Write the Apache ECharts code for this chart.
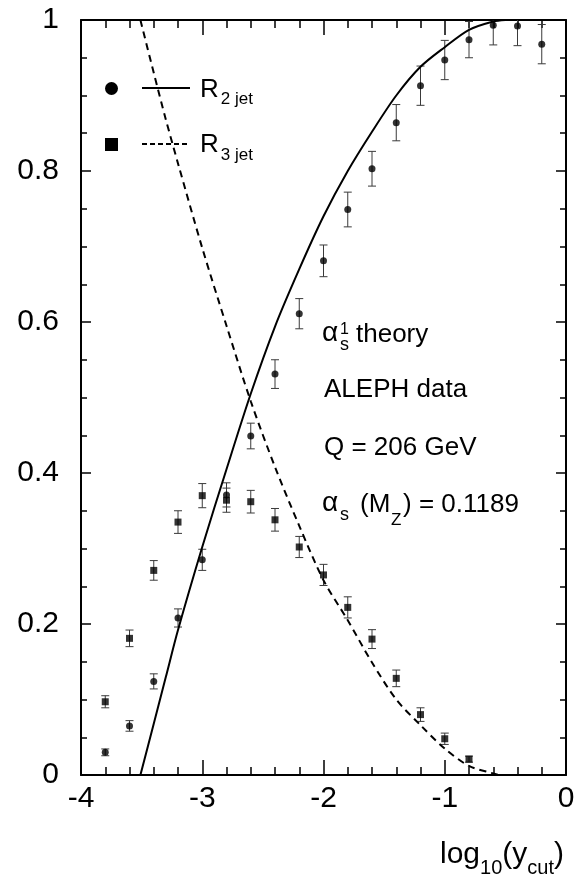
<!DOCTYPE html>
<html>
<head>
<meta charset="utf-8">
<script src="https://cdn.jsdelivr.net/npm/echarts@6/dist/echarts.min.js"></script>
<style>
  html, body { margin: 0; padding: 0; background: #fff; }
  #wrap { position: relative; width: 574px; height: 877px; }
  #main { width: 574px; height: 877px; }
  #overlay { position: absolute; left: 0; top: 0; width: 574px; height: 877px; pointer-events: none;
    font-family: 'Liberation Sans', Arial, sans-serif; color: #000; }
  #overlay div { position: absolute; white-space: nowrap; }
  .sub { position: relative; }
</style>
</head>
<body>
<div id="wrap">
  <div id="main"></div>
  <div id="overlay"></div>
</div>
<script>
// measured points (log10 ycut)
const logYcut = [-3.8, -3.6, -3.4, -3.2, -3.0, -2.8, -2.6, -2.4, -2.2, -2.0, -1.8, -1.6, -1.4, -1.2, -1.0, -0.8, -0.6, -0.4, -0.2];
const r2Data = [0.030, 0.065, 0.124, 0.208, 0.285, 0.371, 0.449, 0.531, 0.611, 0.681, 0.749, 0.803, 0.864, 0.913, 0.947, 0.974, 0.993, 0.992, 0.968];
const r2Err = [0.0045, 0.007, 0.010, 0.012, 0.014, 0.016, 0.017, 0.019, 0.020, 0.021, 0.023, 0.023, 0.024, 0.026, 0.026, 0.024, 0.026, 0.026, 0.026];
const r3Data = [0.097, 0.181, 0.271, 0.335, 0.370, 0.364, 0.362, 0.338, 0.302, 0.265, 0.222, 0.180, 0.128, 0.080, 0.048, 0.021];
const r3Err = [0.008, 0.011, 0.013, 0.015, 0.016, 0.016, 0.015, 0.015, 0.014, 0.014, 0.014, 0.0125, 0.011, 0.009, 0.0075, 0.004];

// alpha_s^1 theory curves
const r2TheoryX = [-3.51, -3.4, -3.3, -3.2, -3.0, -2.8, -2.6, -2.4, -2.2, -2.0, -1.8, -1.6, -1.4, -1.2, -1.0, -0.8, -0.6, -0.5];
const r2TheoryY = [0, 0.068, 0.13, 0.192, 0.302, 0.405, 0.505, 0.594, 0.670, 0.740, 0.800, 0.852, 0.900, 0.938, 0.964, 0.987, 0.998, 1.0];
const r3TheoryX = [-3.51, -3.4, -3.3, -3.2, -3.0, -2.8, -2.6, -2.4, -2.2, -2.0, -1.8, -1.6, -1.4, -1.2, -1.0, -0.8, -0.6, -0.55];
const r3TheoryY = [1.0, 0.93, 0.868, 0.81, 0.698, 0.595, 0.495, 0.408, 0.33, 0.258, 0.205, 0.149, 0.10, 0.066, 0.035, 0.012, 0.002, 0.0];

const FONT = 'Liberation Sans, Arial, sans-serif';

function pairs(xs, ys) {
  return ys.map((y, i) => [xs[i], y]);
}
function errRows(xs, ys, es) {
  return ys.map((y, i) => [xs[i], y - es[i], y + es[i]]);
}

function renderErrorBar(params, api) {
  const x = api.value(0);
  const lo = api.coord([x, api.value(1)]);
  const hi = api.coord([x, api.value(2)]);
  const w = 4;
  const style = { stroke: '#3a3a3a', lineWidth: 1 };
  return {
    type: 'group',
    children: [
      { type: 'line', shape: { x1: hi[0], y1: hi[1], x2: lo[0], y2: lo[1] }, style: style },
      { type: 'line', shape: { x1: hi[0] - w, y1: hi[1], x2: hi[0] + w, y2: hi[1] }, style: style },
      { type: 'line', shape: { x1: lo[0] - w, y1: lo[1], x2: lo[0] + w, y2: lo[1] }, style: style }
    ]
  };
}

function xAxisCfg(pos, showLabel) {
  return {
    type: 'value', min: -4, max: 0, interval: 1, position: pos,
    axisLine: { show: true, onZero: false, lineStyle: { color: '#000', width: 2 } },
    axisTick: { show: true, inside: true, length: 15, lineStyle: { color: '#000', width: 1.5 } },
    minorTick: { show: true, splitNumber: 5, length: 8, lineStyle: { color: '#000', width: 1.5 } },
    axisLabel: { show: showLabel, fontSize: 30, fontFamily: FONT, color: '#000', margin: 9 },
    splitLine: { show: false }
  };
}
function yAxisCfg(pos, showLabel) {
  return {
    type: 'value', min: 0, max: 1, interval: 0.2, position: pos,
    axisLine: { show: true, onZero: false, lineStyle: { color: '#000', width: 2 } },
    axisTick: { show: true, inside: true, length: 10, lineStyle: { color: '#000', width: 1.5 } },
    minorTick: { show: true, splitNumber: 4, length: 6, lineStyle: { color: '#000', width: 1.5 } },
    axisLabel: { show: showLabel, fontSize: 30, fontFamily: FONT, color: '#000', margin: 22 },
    splitLine: { show: false }
  };
}

const myChart = echarts.init(document.getElementById('main'));

const option = {
  animation: false,
  grid: { left: 81, right: 8, top: 20, bottom: 102, outerBoundsMode: 'none' },
  xAxis: [xAxisCfg('bottom', true), xAxisCfg('top', false)],
  yAxis: [yAxisCfg('left', true), yAxisCfg('right', false)],
  series: [
    { type: 'line', data: pairs(r3TheoryX, r3TheoryY), showSymbol: false, symbol: 'none', smooth: 0.3,
      lineStyle: { color: '#000', width: 2, type: [7, 5] } },
    { type: 'line', data: pairs(r2TheoryX, r2TheoryY), showSymbol: false, symbol: 'none', smooth: 0.3,
      lineStyle: { color: '#000', width: 2 } },
    { type: 'custom', data: errRows(logYcut, r2Data, r2Err), renderItem: renderErrorBar, clip: true, encode: { x: 0, y: [1, 2] } },
    { type: 'custom', data: errRows(logYcut, r3Data, r3Err), renderItem: renderErrorBar, clip: true, encode: { x: 0, y: [1, 2] } },
    { type: 'scatter', data: pairs(logYcut, r2Data), symbol: 'circle', symbolSize: 7, itemStyle: { color: '#000' } },
    { type: 'scatter', data: pairs(logYcut, r3Data), symbol: 'rect', symbolSize: 7, itemStyle: { color: '#000' } }
  ]
};
myChart.setOption(option);
// the axis ticks only show up after a forced redraw
myChart.getZr().storage.getDisplayList(true);
myChart.getZr().refreshImmediately();

// legend and annotation text on top of the canvas
const overlay = document.getElementById('overlay');
function put(html, left, baseline, size, extra) {
  const d = document.createElement('div');
  d.innerHTML = html;
  d.style.left = left + 'px';
  d.style.top = (baseline - 0.8465 * size) + 'px';
  d.style.fontSize = size + 'px';
  d.style.lineHeight = size + 'px';
  if (extra) Object.assign(d.style, extra);
  overlay.appendChild(d);
  return d;
}
function box(left, top, w, h, css) {
  const d = document.createElement('div');
  Object.assign(d.style, { left: left + 'px', top: top + 'px', width: w + 'px', height: h + 'px' }, css);
  overlay.appendChild(d);
}

// legend
box(104.5, 81.5, 13, 13, { background: '#000', borderRadius: '50%' });
box(142, 86.5, 48, 2, { background: '#000' });
box(104.5, 137.5, 13, 13, { background: '#000' });
box(142, 143, 48, 2, { background: 'repeating-linear-gradient(to right, #000 0 5px, transparent 5px 8px)' });
put('R<span class="sub" style="font-size:17px;top:7px;margin-left:2px">2 jet</span>', 200, 96.7, 26);
put('R<span class="sub" style="font-size:17px;top:8.5px;margin-left:2px">3 jet</span>', 200, 151.7, 26);

// annotations
put('α', 322, 341.7, 28);
put('1', 340, 334.5, 16);
put('s', 340, 350.5, 18);
put('theory', 356, 341.7, 26);
put('ALEPH data', 324, 397.3, 26);
put('Q = 206 GeV', 324, 455, 26);
put('α', 322, 511.7, 28);
put('s', 340, 520.5, 18);
put('(M', 360, 511.7, 26);
put('Z', 391, 525, 17);
put(') = 0.1189', 403, 511.7, 26);

// x axis title
put('log<span class="sub" style="font-size:20px;top:11px">10</span>(y<span class="sub" style="font-size:20px;top:11px">cut</span>)',
  0, 863, 30, { left: 'auto', right: '10px' });
</script>
</body>
</html>
